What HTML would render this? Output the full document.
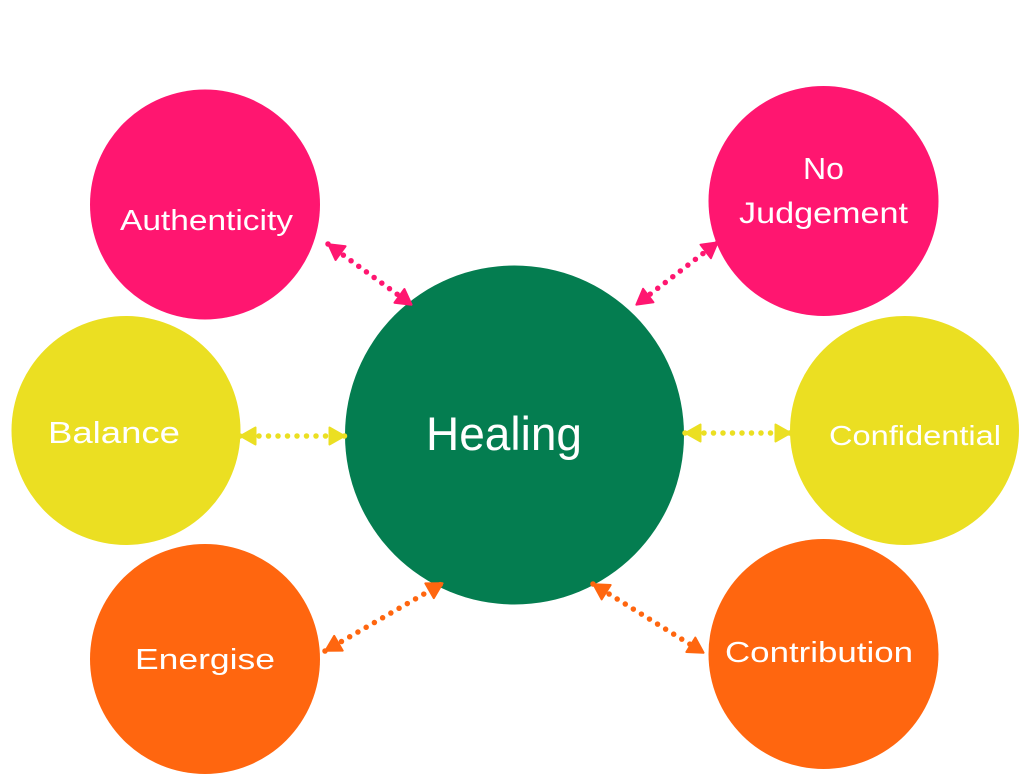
<!DOCTYPE html>
<html>
<head>
<meta charset="utf-8">
<style>
  html, body { margin:0; padding:0; background:#ffffff; }
  body { width:1026px; height:774px; overflow:hidden; }
  svg { display:block; }
  text { font-family: "Liberation Sans", "DejaVu Sans", sans-serif; fill:#ffffff; }
</style>
</head>
<body>
<svg width="1026" height="774" viewBox="0 0 1026 774" xmlns="http://www.w3.org/2000/svg">
  <defs>
    <marker id="mp" markerUnits="userSpaceOnUse" markerWidth="18" markerHeight="20" viewBox="0 0 18 20" refX="17" refY="10" orient="auto-start-reverse">
      <path d="M1.5,1.5 L16.5,10 L1.5,18.5 Z" fill="#FF1670" stroke="#FF1670" stroke-width="2" stroke-linejoin="round"/>
    </marker>
    <marker id="my" markerUnits="userSpaceOnUse" markerWidth="18" markerHeight="20" viewBox="0 0 18 20" refX="17" refY="10" orient="auto-start-reverse">
      <path d="M1.5,1.5 L16.5,10 L1.5,18.5 Z" fill="#EBDF22" stroke="#EBDF22" stroke-width="2" stroke-linejoin="round"/>
    </marker>
    <marker id="mo" markerUnits="userSpaceOnUse" markerWidth="18" markerHeight="20" viewBox="0 0 18 20" refX="17" refY="10" orient="auto-start-reverse">
      <path d="M1.5,1.5 L16.5,10 L1.5,18.5 Z" fill="#FF660F" stroke="#FF660F" stroke-width="2" stroke-linejoin="round"/>
    </marker>
  </defs>

  <!-- circles -->
  <circle cx="205" cy="204.5" r="115" fill="#FF1670"/>
  <circle cx="823.5" cy="201" r="115" fill="#FF1670"/>
  <circle cx="126" cy="430.5" r="114.5" fill="#EBDF22"/>
  <circle cx="904.5" cy="430.5" r="114.5" fill="#EBDF22"/>
  <circle cx="205" cy="659" r="115" fill="#FF660F"/>
  <circle cx="823.5" cy="654" r="115" fill="#FF660F"/>
  <circle cx="514.5" cy="435" r="169.5" fill="#047D50"/>

  <!-- connectors -->
  <g fill="none" stroke-width="5.5" stroke-linecap="round" stroke-dasharray="0 9.5">
    <line x1="328" y1="244" x2="412" y2="305" stroke="#FF1670" marker-start="url(#mp)" marker-end="url(#mp)"/>
    <line x1="718" y1="242" x2="636" y2="305" stroke="#FF1670" marker-start="url(#mp)" marker-end="url(#mp)"/>
    <line x1="240" y1="436" x2="345" y2="436" stroke="#EBDF22" marker-start="url(#my)" marker-end="url(#my)"/>
    <line x1="685" y1="433" x2="791" y2="433" stroke="#EBDF22" marker-start="url(#my)" marker-end="url(#my)"/>
    <line x1="325" y1="651" x2="443" y2="583" stroke="#FF660F" marker-start="url(#mo)" marker-end="url(#mo)"/>
    <line x1="593" y1="584" x2="704" y2="653" stroke="#FF660F" marker-start="url(#mo)" marker-end="url(#mo)"/>
  </g>

  <!-- labels -->
  <text x="120" y="230" font-size="29" textLength="173" lengthAdjust="spacingAndGlyphs">Authenticity</text>
  <text x="803" y="179" font-size="31" textLength="41" lengthAdjust="spacingAndGlyphs">No</text>
  <text x="739" y="223" font-size="30" textLength="169" lengthAdjust="spacingAndGlyphs">Judgement</text>
  <text x="48" y="443" font-size="31" textLength="132" lengthAdjust="spacingAndGlyphs">Balance</text>
  <text x="829" y="445" font-size="28" textLength="172" lengthAdjust="spacingAndGlyphs">Confidential</text>
  <text x="426" y="450" font-size="47" textLength="156" lengthAdjust="spacingAndGlyphs">Healing</text>
  <text x="135" y="669" font-size="29" textLength="140" lengthAdjust="spacingAndGlyphs">Energise</text>
  <text x="725" y="662" font-size="29" textLength="188" lengthAdjust="spacingAndGlyphs">Contribution</text>
</svg>
</body>
</html>
